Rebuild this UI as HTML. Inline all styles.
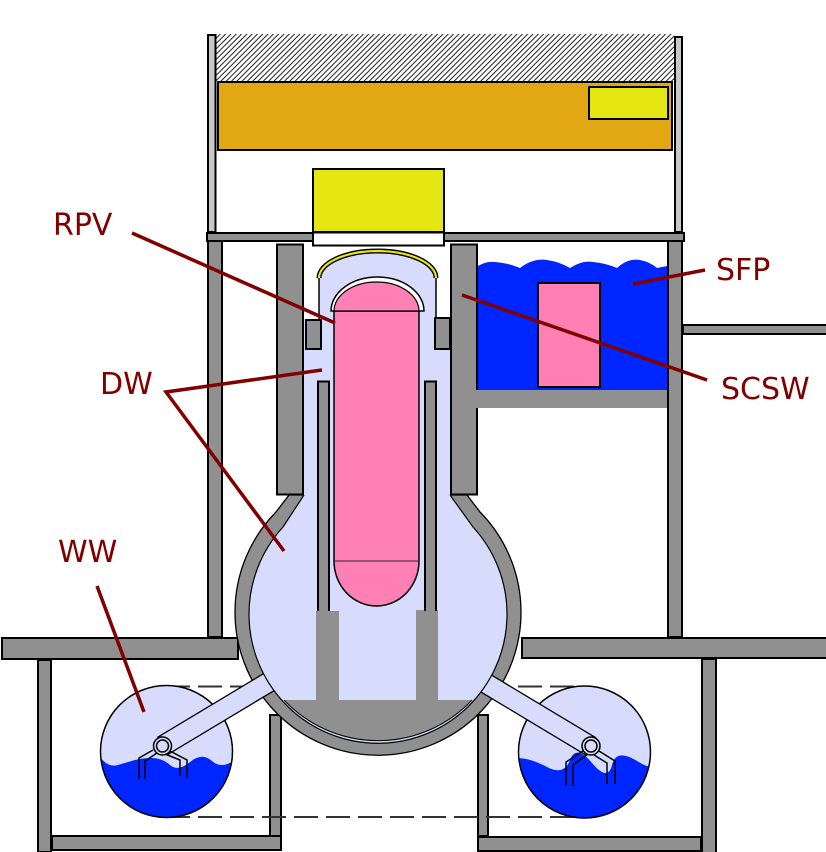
<!DOCTYPE html>
<html><head><meta charset="utf-8"><style>
html,body{margin:0;padding:0;background:#fff;}
svg{display:block;}
text{font-family:"DejaVu Sans","Liberation Sans",sans-serif;font-size:30px;fill:#800000;}
</style></head><body>
<svg width="826" height="852" viewBox="0 0 826 852" xmlns="http://www.w3.org/2000/svg">
<defs>
<pattern id="hatch" patternUnits="userSpaceOnUse" width="5.3" height="5.3">
<path d="M-1,1 L1,-1 M0,5.3 L5.3,0 M4.3,6.3 L6.3,4.3" stroke="#000" stroke-width="0.9"/>
</pattern>
<clipPath id="tl"><circle cx="166.5" cy="751.5" r="66"/></clipPath>
<clipPath id="tr"><circle cx="584.5" cy="752" r="66"/></clipPath>
</defs>
<rect width="826" height="852" fill="#fff"/>

<!-- top building -->
<rect x="216" y="34" width="458" height="48" fill="url(#hatch)"/>
<rect x="208" y="35" width="7.5" height="197" fill="#c8c8c8" stroke="#000" stroke-width="2"/>
<rect x="675" y="37" width="7" height="195" fill="#c8c8c8" stroke="#000" stroke-width="2"/>
<rect x="218" y="82" width="454" height="68" fill="#e2a814" stroke="#000" stroke-width="2"/>
<rect x="589" y="87" width="79" height="32" fill="#e6e612" stroke="#000" stroke-width="2"/>
<rect x="313" y="169" width="131" height="63" fill="#e6e612" stroke="#000" stroke-width="2"/>
<rect x="207" y="233" width="477" height="8" fill="#909090" stroke="#000" stroke-width="2"/>
<rect x="313" y="232.5" width="131" height="13" fill="#fff" stroke="#000" stroke-width="2"/>

<!-- SFP pool water -->
<path d="M478,266 Q486,261 495,262 Q508,263 520,268 Q533,258 547,260 Q560,262 570,268 Q582,260 593,262 Q605,263 617,268 Q628,258 640,260 Q650,262 657,268 L667,266 L667,392 L478,392 Z" fill="#0026ff"/>
<rect x="538" y="283" width="62" height="104" fill="#ff80b4" stroke="#000" stroke-width="2"/>

<!-- main walls -->
<rect x="208" y="241" width="14" height="396" fill="#909090" stroke="#000" stroke-width="2"/>
<rect x="683" y="325" width="145" height="9" fill="#909090" stroke="#000" stroke-width="2"/>

<!-- lower structure -->
<rect x="38" y="660" width="13" height="192" fill="#909090" stroke="#000" stroke-width="2"/>
<rect x="52" y="836" width="229" height="14" fill="#909090" stroke="#000" stroke-width="2"/>
<rect x="270" y="715" width="11" height="121" fill="#909090" stroke="#000" stroke-width="2"/>
<rect x="478" y="715" width="10" height="121" fill="#909090" stroke="#000" stroke-width="2"/>
<rect x="478" y="837" width="223" height="14" fill="#909090" stroke="#000" stroke-width="2"/>
<rect x="702" y="659" width="14" height="195" fill="#909090" stroke="#000" stroke-width="2"/>
<rect x="2" y="638" width="236" height="21" fill="#909090" stroke="#000" stroke-width="2"/>
<rect x="522" y="638" width="306" height="20" fill="#909090" stroke="#000" stroke-width="2"/>

<!-- dashed torus outline -->
<line x1="166" y1="686.5" x2="584" y2="686.5" stroke="#333" stroke-width="2" stroke-dasharray="24 8"/>
<line x1="166" y1="817" x2="584" y2="817" stroke="#333" stroke-width="2" stroke-dasharray="24 8"/>

<!-- tori -->
<circle cx="166.5" cy="751.5" r="66" fill="#d8dcfc"/>
<path clip-path="url(#tl)" d="M100,757 Q108,768 118,765 T135,760 T152,758 T170,765 T190,762 T212,761 T236,759 L236,822 L98,822 Z" fill="#0026ff"/>
<circle cx="166.5" cy="751.5" r="66" fill="none" stroke="#000" stroke-width="1.5"/>
<circle cx="584.5" cy="752" r="66" fill="#d8dcfc"/>
<path clip-path="url(#tr)" d="M517,758 Q530,758 547,767 T570,760 T592,763 T612,765 T637,761 T652,757 L652,822 L516,822 Z" fill="#0026ff"/>
<circle cx="584.5" cy="752" r="66" fill="none" stroke="#000" stroke-width="1.5"/>

<!-- drywell shell -->
<path d="M289,495 L276,512 A143,143 0 1 0 480,512 L467,495 Z" fill="#909090" stroke="#000" stroke-width="1.3"/>

<!-- vent pipes -->
<g transform="translate(162.5,746) rotate(-31)">
<rect x="0" y="-10" width="140" height="20" fill="#d8dcfc"/>
<line x1="0" y1="-10" x2="140" y2="-10" stroke="#000" stroke-width="1.3"/>
<line x1="0" y1="10" x2="140" y2="10" stroke="#000" stroke-width="1.3"/>
</g>
<g transform="translate(591,746.5) rotate(31)">
<rect x="-140" y="-10" width="140" height="20" fill="#d8dcfc"/>
<line x1="-140" y1="-10" x2="0" y2="-10" stroke="#000" stroke-width="1.3"/>
<line x1="-140" y1="10" x2="0" y2="10" stroke="#000" stroke-width="1.3"/>
</g>

<!-- drywell interior -->
<rect x="304" y="319" width="146" height="186" fill="#d8dcfc"/>
<path d="M304,495 L283,527 A129,129 0 1 0 473,527 L450,495" fill="#d8dcfc" stroke="#000" stroke-width="1.2"/>
<path d="M319,321 L319,278 A58.5,27 0 0 1 436,278 L436,321 Z" fill="#d8dcfc"/>
<line x1="319" y1="278" x2="319" y2="321" stroke="#000" stroke-width="1.5"/>
<line x1="436" y1="278" x2="436" y2="321" stroke="#000" stroke-width="1.5"/>
<path d="M319,278 A58.5,27 0 0 1 436,278" fill="none" stroke="#000" stroke-width="5"/>
<path d="M319,278 A58.5,27 0 0 1 436,278" fill="none" stroke="#e6e612" stroke-width="2.2"/>

<!-- bottom concrete -->
<rect x="316" y="611" width="23" height="90" fill="#909090"/>
<rect x="416" y="610" width="22" height="91" fill="#909090"/>
<path d="M472,700 L284,700 A129,129 0 0 0 472,700 Z" fill="#909090"/>
<path d="M284,700 A129,129 0 0 0 472,700" fill="none" stroke="#000" stroke-width="1"/>

<!-- shield columns -->
<rect x="277" y="244.5" width="26" height="250" fill="#909090" stroke="#000" stroke-width="2"/>
<rect x="451" y="244.5" width="26" height="250" fill="#909090" stroke="#000" stroke-width="2"/>
<rect x="476" y="390" width="191" height="18" fill="#909090"/>
<rect x="668" y="241" width="14" height="396" fill="#909090" stroke="#000" stroke-width="2"/>
<rect x="306" y="320" width="15" height="29" fill="#909090" stroke="#000" stroke-width="2"/>
<rect x="435" y="318" width="15" height="31" fill="#909090" stroke="#000" stroke-width="2"/>

<!-- shroud walls -->
<path d="M318,611 L318,381.5 L329,381.5 L329,611" fill="#909090" stroke="#000" stroke-width="2"/>
<path d="M425,611 L425,381.5 L436,381.5 L436,611" fill="#909090" stroke="#000" stroke-width="2"/>

<!-- RPV -->
<path d="M334,311 L334,561 A42.5,45 0 0 0 419,561 L419,311 Z" fill="#ff80b4" stroke="#000" stroke-width="1.5"/>
<line x1="334" y1="561" x2="419" y2="561" stroke="#223" stroke-width="1"/>
<path d="M331,311 A46.5,34 0 0 1 424,311 Z" fill="#fff" stroke="#000" stroke-width="1.5"/>
<path d="M334,311 A42.5,29 0 0 1 419,311 Z" fill="#ff80b4" stroke="#000" stroke-width="1.2"/>

<!-- rings & downcomers -->
<g fill="none" stroke="#000" stroke-width="1.5">
<circle cx="162.5" cy="746" r="9" fill="#d8dcfc"/>
<circle cx="162.5" cy="746" r="6"/>
<polyline points="153,750 139,758 139,779"/>
<polyline points="157,753 145,761 145,779"/>
<polyline points="170,751 187,760 187,778"/>
<polyline points="165,754 180,760 180,776"/>
<circle cx="591" cy="746" r="9" fill="#d8dcfc"/>
<circle cx="591" cy="746" r="6"/>
<polyline points="583,751 566,762 566,786"/>
<polyline points="588,754 573,765 573,786"/>
<polyline points="599,751 615,761 615,784"/>
<polyline points="594,755 607,763 607,784"/>
</g>

<!-- leader lines -->
<g stroke="#800000" stroke-width="3.5" fill="none" stroke-linecap="butt">
<line x1="132" y1="233" x2="335" y2="323"/>
<polyline points="322,370 166,392 284,551"/>
<line x1="97" y1="586" x2="144" y2="712"/>
<line x1="705" y1="270" x2="633" y2="284"/>
<line x1="462" y1="295" x2="707" y2="380"/>
</g>

<text x="53" y="235">RPV</text>
<text x="100" y="394">DW</text>
<text x="58" y="562">WW</text>
<text x="716" y="280">SFP</text>
<text x="721" y="399">SCSW</text>
</svg>
</body></html>
